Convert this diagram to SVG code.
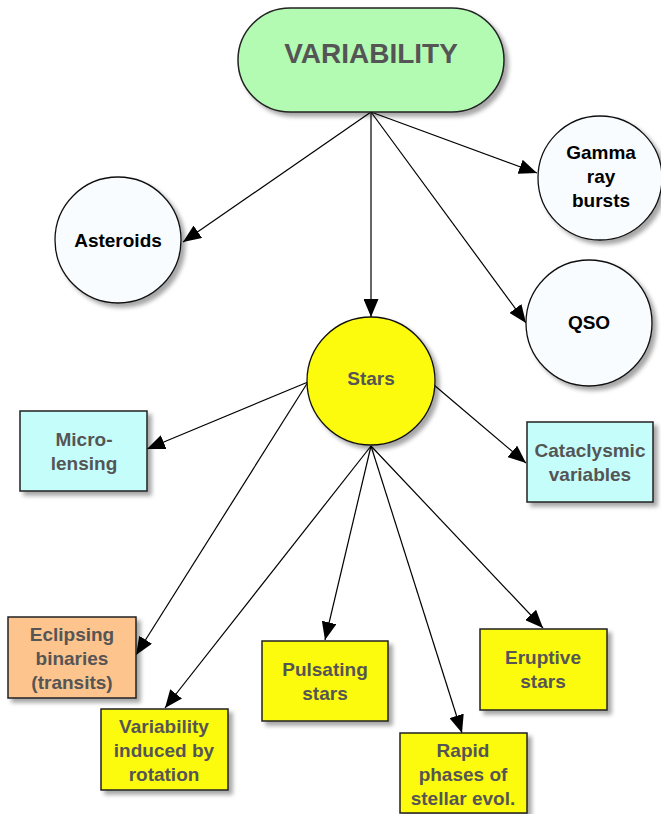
<svg xmlns="http://www.w3.org/2000/svg" width="661" height="814" viewBox="0 0 661 814">
<defs>
<filter id="sh" x="-20%" y="-20%" width="150%" height="150%">
<feDropShadow dx="4" dy="4" stdDeviation="2" flood-color="#000" flood-opacity="0.35"/>
</filter>
<marker id="ah" markerUnits="userSpaceOnUse" markerWidth="19" markerHeight="15" refX="18" refY="7.5" orient="auto">
<path d="M0,0 L18,7.5 L0,15 z" fill="#000"/>
</marker>
<style>
.n{stroke:#222;stroke-width:1.5;filter:url(#sh)}
.c{stroke:#111;stroke-width:1.3;filter:url(#sh)}
.t{font-family:"Liberation Sans",Arial,sans-serif;font-weight:bold;font-size:19px;fill:#555;text-anchor:middle}
.k{fill:#000}
.e{stroke:#000;stroke-width:1.2;fill:none;marker-end:url(#ah)}
</style>
</defs>
<g id="connectors">
<line class="e" x1="371" y1="112" x2="183" y2="242"/>
<line class="e" x1="371" y1="112" x2="371" y2="317"/>
<line class="e" x1="371" y1="112" x2="537" y2="173"/>
<line class="e" x1="371" y1="112" x2="526" y2="323"/>
<line class="e" x1="308" y1="382" x2="147" y2="449"/>
<line class="e" x1="308" y1="382" x2="136" y2="655"/>
<line class="e" x1="434" y1="385" x2="526" y2="463"/>
<line class="e" x1="371" y1="446" x2="165" y2="708"/>
<line class="e" x1="371" y1="446" x2="325" y2="640"/>
<line class="e" x1="371" y1="446" x2="462" y2="733"/>
<line class="e" x1="371" y1="446" x2="543" y2="628"/>
</g>
<g id="variability">
<rect class="n" x="238" y="8" width="266" height="104" rx="52" fill="#b3fbb3"/>
<text class="t" x="371" y="63" style="font-size:28px">VARIABILITY</text>
</g>
<g id="asteroids">
<circle class="c" cx="118" cy="240" r="63" fill="#f8fcff"/>
<text class="t k" x="118" y="247">Asteroids</text>
</g>
<g id="gamma">
<circle class="c" cx="600" cy="178" r="62" fill="#f8fcff"/>
<text class="t k" x="601" y="159">Gamma</text>
<text class="t k" x="601" y="183">ray</text>
<text class="t k" x="601" y="207">bursts</text>
</g>
<g id="qso">
<circle class="c" cx="589" cy="323" r="63" fill="#f8fcff"/>
<text class="t k" x="589" y="329">QSO</text>
</g>
<g id="stars">
<circle class="c" cx="371" cy="381" r="64" fill="#fdfb0e"/>
<text class="t" x="371" y="385">Stars</text>
</g>
<g id="microlensing">
<rect class="n" x="20" y="411" width="127" height="80" fill="#c5fdfb"/>
<text class="t" x="84" y="446">Micro-</text>
<text class="t" x="84" y="470">lensing</text>
</g>
<g id="cataclysmic">
<rect class="n" x="527" y="422" width="126" height="80" fill="#c5fdfb"/>
<text class="t" x="590" y="457">Cataclysmic</text>
<text class="t" x="590" y="481">variables</text>
</g>
<g id="eclipsing">
<rect class="n" x="8" y="617" width="128" height="81" fill="#fdc48e"/>
<text class="t" x="72" y="641">Eclipsing</text>
<text class="t" x="72" y="665">binaries</text>
<text class="t" x="72" y="689">(transits)</text>
</g>
<g id="rotation">
<rect class="n" x="101" y="709" width="127" height="81" fill="#fdfb0e"/>
<text class="t" x="164" y="733">Variability</text>
<text class="t" x="164" y="757">induced by</text>
<text class="t" x="164" y="781">rotation</text>
</g>
<g id="pulsating">
<rect class="n" x="262" y="641" width="126" height="80" fill="#fdfb0e"/>
<text class="t" x="325" y="676">Pulsating</text>
<text class="t" x="325" y="700">stars</text>
</g>
<g id="rapid">
<rect class="n" x="400" y="733" width="127" height="80" fill="#fdfb0e"/>
<text class="t" x="463" y="757">Rapid</text>
<text class="t" x="463" y="781">phases of</text>
<text class="t" x="463" y="805">stellar evol.</text>
</g>
<g id="eruptive">
<rect class="n" x="480" y="629" width="127" height="81" fill="#fdfb0e"/>
<text class="t" x="543" y="664">Eruptive</text>
<text class="t" x="543" y="688">stars</text>
</g>
</svg>
